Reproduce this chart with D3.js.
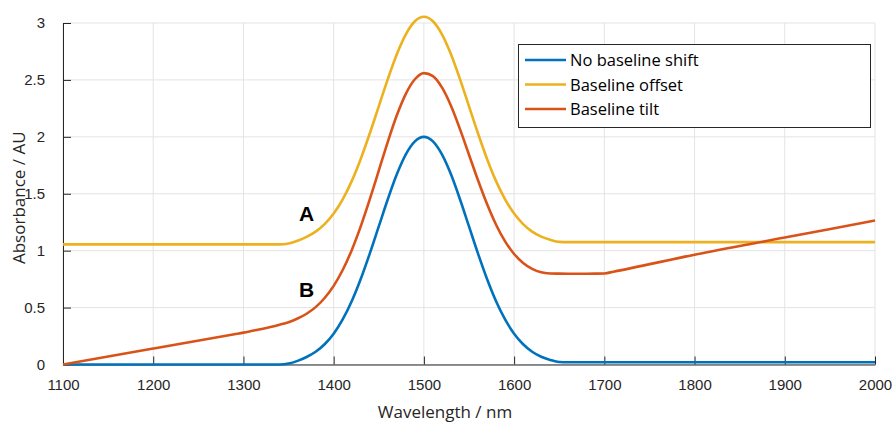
<!DOCTYPE html>
<html>
<head>
<meta charset="utf-8">
<script src="https://cdn.jsdelivr.net/npm/d3@7/dist/d3.min.js"></script>
<style>
  html, body { margin: 0; padding: 0; background: #fff; }
  svg { display: block; }
</style>
</head>
<body>
<svg id="chart" width="893" height="423"></svg>
<script>
// ---- data ----
const wavelength = [1100,1200,1290,1300,1310,1320,1330,1340,1350,1360,1370,1380,1390,1400,1410,1420,1430,1440,1450,1460,1470,1480,1490,1500,1510,1520,1530,1540,1550,1560,1570,1580,1590,1600,1610,1620,1630,1640,1650,1660,1670,1680,1690,1700,1710,1800,1900,2000];

const noShift = [0,0,0,0,0,0,0,0,0.008,0.032,0.066,0.112,0.178,0.271,0.396,0.556,0.751,0.974,1.213,1.452,1.671,1.846,1.960,2.0,1.960,1.846,1.671,1.452,1.213,0.974,0.751,0.556,0.396,0.271,0.178,0.112,0.068,0.040,0.022,0.02,0.02,0.02,0.02,0.02,0.02,0.02,0.02,0.02];

const offset = [1.055,1.055,1.055,1.055,1.055,1.055,1.055,1.055,1.063,1.087,1.121,1.167,1.233,1.326,1.451,1.611,1.806,2.029,2.268,2.507,2.726,2.901,3.015,3.055,3.015,2.901,2.726,2.507,2.268,2.029,1.806,1.611,1.451,1.326,1.233,1.167,1.123,1.095,1.077,1.075,1.075,1.075,1.075,1.075,1.075,1.075,1.075,1.075];

const tilt = [0,0.14,0.266,0.28,0.296,0.312,0.329,0.349,0.372,0.404,0.446,0.504,0.584,0.691,0.830,1.004,1.213,1.450,1.703,1.956,2.189,2.378,2.506,2.56,2.534,2.434,2.273,2.068,1.843,1.618,1.409,1.228,1.082,0.971,0.892,0.840,0.810,0.800,0.798,0.797,0.797,0.797,0.798,0.80,0.815,0.965,1.115,1.265];

const seriesNames = ["No baseline shift", "Baseline offset", "Baseline tilt"];
const seriesColors = ["#0072BD", "#EDB120", "#D95319"];
const xTicks = [1100,1200,1300,1400,1500,1600,1700,1800,1900,2000];
const yTicks = [0,0.5,1,1.5,2,2.5,3];
const annotations = [{label: "A", x: 1370, y: 1.33}, {label: "B", x: 1370, y: 0.66}];

// ---- layout ----
const svg = d3.select("#chart");
const mLeft = 63, mRight = 875, mTop = 23, mBottom = 364.5;
const x = d3.scaleLinear().domain([1100, 2000]).range([mLeft, mRight]);
const y = d3.scaleLinear().domain([0, 3]).range([mBottom, mTop]);
const axisColor = "#262626";
const gridColor = "#e3e3e3";

// grid
const grid = svg.append("g");
grid.selectAll("line.gx").data(xTicks).enter().append("line")
  .attr("x1", d => x(d)).attr("x2", d => x(d))
  .attr("y1", mTop).attr("y2", mBottom)
  .attr("stroke", gridColor).attr("stroke-width", 1);
grid.selectAll("line.gy").data(yTicks).enter().append("line")
  .attr("y1", d => y(d)).attr("y2", d => y(d))
  .attr("x1", mLeft).attr("x2", mRight)
  .attr("stroke", gridColor).attr("stroke-width", 1);

// axes
const xAxis = d3.axisBottom(x).tickValues(xTicks).tickSize(-8).tickPadding(15).tickSizeOuter(0).tickFormat(d3.format("d"));
const yAxis = d3.axisLeft(y).tickValues(yTicks).tickSize(-8).tickPadding(18).tickSizeOuter(0).tickFormat(d => String(d));

const gx = svg.append("g").attr("transform", `translate(0,${mBottom})`).call(xAxis);
const gy = svg.append("g").attr("transform", `translate(${mLeft},0)`).call(yAxis);
[gx, gy].forEach(g => {
  g.select(".domain").attr("stroke", axisColor).attr("stroke-width", 1);
  g.selectAll(".tick line").attr("stroke", axisColor).attr("stroke-width", 1);
  g.selectAll(".tick text").attr("fill", axisColor)
    .style("font-family", "'Liberation Sans', Arial, sans-serif").style("font-size", "15px");
});

// lines
const series = [noShift, offset, tilt];
const line = d3.line().x((d, i) => x(wavelength[i])).y(d => y(d)).curve(d3.curveMonotoneX);
series.forEach((s, k) => {
  svg.append("path").datum(s)
    .attr("d", line)
    .attr("fill", "none")
    .attr("stroke", seriesColors[k])
    .attr("stroke-width", 2.6)
    .attr("stroke-linejoin", "round");
});

// annotations
svg.selectAll("text.ann").data(annotations).enter().append("text")
  .attr("x", d => x(d.x)).attr("y", d => y(d.y) + 8)
  .attr("text-anchor", "middle")
  .style("font-family", "'Liberation Sans', Arial, sans-serif")
  .style("font-weight", "bold").style("font-size", "21px")
  .attr("fill", "#000")
  .text(d => d.label);

// axis labels
svg.append("text")
  .attr("x", 445).attr("y", 418)
  .attr("text-anchor", "middle")
  .style("font-family", "'Open Sans', sans-serif").style("font-size", "17px")
  .attr("fill", axisColor)
  .text("Wavelength / nm");
svg.append("text")
  .attr("transform", `translate(25,${(mTop + mBottom) / 2 + 4}) rotate(-90)`)
  .attr("text-anchor", "middle")
  .style("font-family", "'Open Sans', sans-serif").style("font-size", "17px")
  .attr("fill", axisColor)
  .text("Absorbance / AU");

// legend
const lg = svg.append("g");
lg.append("rect").attr("x", 518.5).attr("y", 44.5).attr("width", 352).attr("height", 83)
  .attr("fill", "#fff").attr("stroke", axisColor).attr("stroke-width", 1);
seriesNames.forEach((name, k) => {
  const cy = 60 + k * 24.5;
  lg.append("line").attr("x1", 525).attr("x2", 566).attr("y1", cy).attr("y2", cy)
    .attr("stroke", seriesColors[k]).attr("stroke-width", 2.6);
  lg.append("text").attr("x", 570).attr("y", cy + 6)
    .style("font-family", "'Open Sans', sans-serif").style("font-size", "16.5px")
    .attr("fill", "#000")
    .text(name);
});
</script>
</body>
</html>
